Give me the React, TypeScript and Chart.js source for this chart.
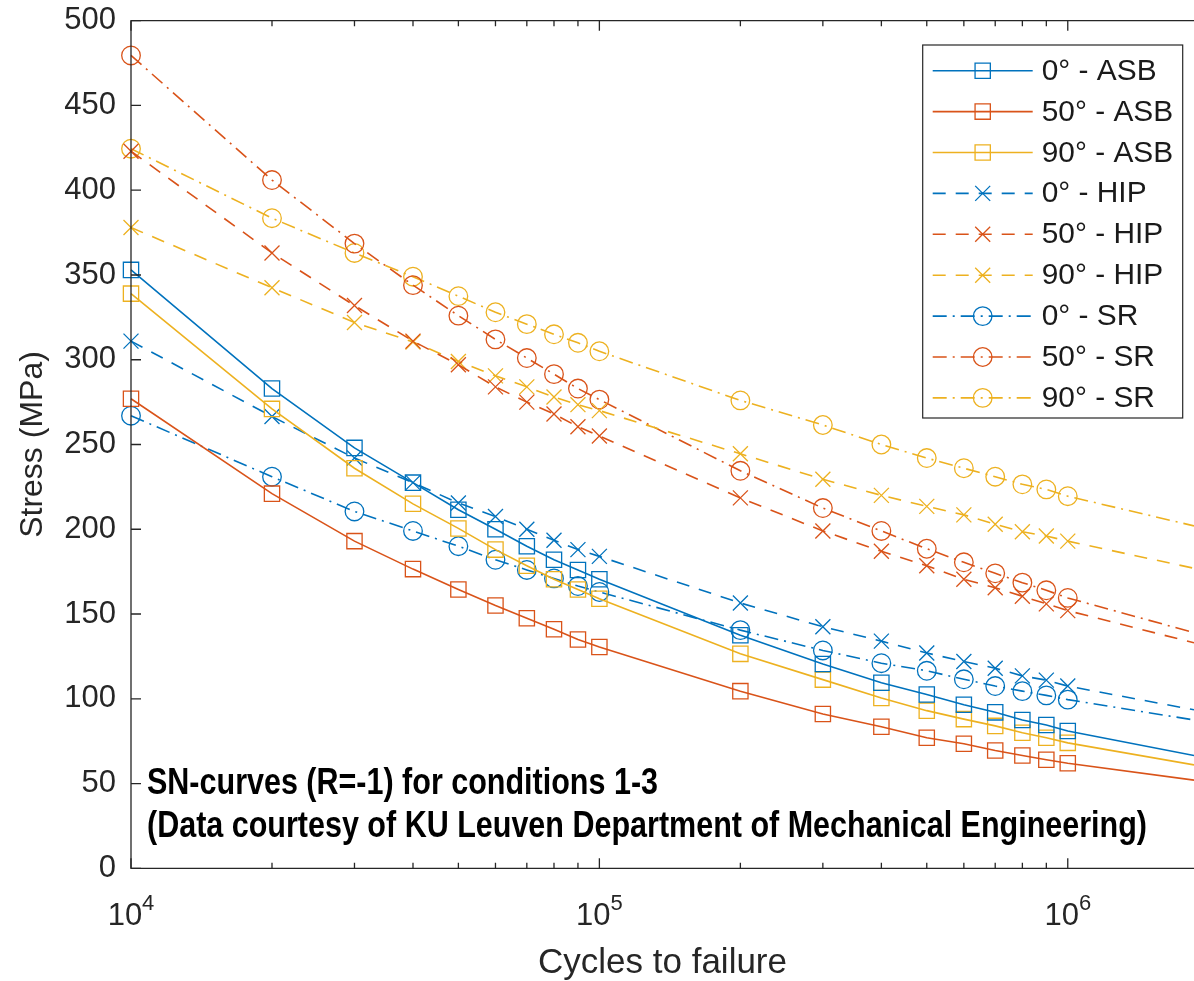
import React, { useEffect, useRef } from 'react';
import { Chart, registerables } from 'chart.js';

Chart.register(...registerables);

// ---------- data ----------
const CYCLES = [1e4, 2e4, 3e4, 4e4, 5e4, 6e4, 7e4, 8e4, 9e4, 1e5, 2e5, 3e5, 4e5, 5e5, 6e5, 7e5, 8e5, 9e5, 1e6, 1.86e6];
const X_MIN = 1e4;
const X_MAX = 1.86e6;

const ASB_0 = [353, 283, 248, 227.5, 211.5, 200, 190, 182, 176, 170.5, 137.5, 120.5, 109.5, 102.5, 96.5, 92, 87.5, 84.5, 81, 66.5];
const ASB_50 = [277, 221, 193, 176.5, 164.5, 155, 147.5, 141, 135, 130.5, 104.5, 91, 83.5, 77, 73.5, 69.5, 66.5, 64, 62, 52];
const ASB_90 = [339, 271, 236, 215, 200.5, 188, 178.5, 170.5, 164.5, 159, 126.5, 111.3, 100.5, 93, 88, 84, 80, 77, 74, 61];
const HIP_0 = [311, 266.5, 242, 227.5, 215.5, 207.5, 200, 193.5, 188, 184, 156.5, 142.5, 134, 127, 122, 118, 113.5, 111, 107.5, 93.5];
const HIP_50 = [423, 363, 332, 311, 297, 284, 275, 268, 260.5, 255, 218.5, 199, 187, 178.5, 170.5, 165.5, 160.5, 156, 152, 133];
const HIP_90 = [378, 342.5, 322, 310.5, 299, 290.5, 284, 278, 273.5, 270, 244.5, 229.5, 220, 213.5, 208.5, 203, 198.5, 196, 193, 177];
const SR_0 = [267, 231, 210.5, 199, 190, 182, 176, 171, 166.5, 163, 140.5, 128.5, 121, 116.5, 111.5, 107.5, 104.5, 102, 99.5, 87.5];
const SR_50 = [479.5, 406, 368.5, 344, 326, 312, 301, 291.5, 283, 276.5, 234.5, 212.5, 199, 188.5, 180.5, 174, 168.5, 164, 159.5, 139];
const SR_90 = [424.5, 383.5, 363, 349, 337.5, 328, 321, 315, 310, 305, 276, 261.5, 250, 242, 236, 231, 226.5, 223.5, 219.5, 202];

const SERIES_LABELS = ['0° - ASB', '50° - ASB', '90° - ASB', '0° - HIP', '50° - HIP', '90° - HIP', '0° - SR', '50° - SR', '90° - SR'];
const SERIES_VALUES = [ASB_0, ASB_50, ASB_90, HIP_0, HIP_50, HIP_90, SR_0, SR_50, SR_90];

const Y_TICKS = [0, 50, 100, 150, 200, 250, 300, 350, 400, 450, 500];
const X_DECADES = [1e4, 1e5, 1e6];
const X_TICK_LABELS = [['10', '4'], ['10', '5'], ['10', '6']];
const ANNOTATION = ['SN-curves (R=-1) for conditions 1-3', '(Data courtesy of KU Leuven Department of Mechanical Engineering)'];

// ---------- styles ----------
const BLUE = '#0072BD';
const RED = '#D95319';
const YELLOW = '#EDB120';
const COLORS = [BLUE, RED, YELLOW];
const AXIS = '#262626';
const FONT = '"Liberation Sans", Arial, Helvetica, sans-serif';
const DASHED = [13, 10];
const DASHDOT = [14, 6, 2, 6];
const MARKER_R: Record<string, number> = { rect: 10.8, crossRot: 10.6, circle: 9.3 };

function seriesStyle(i: number) {
  const group = Math.floor(i / 3);
  const color = COLORS[i % 3];
  const marker = group === 0 ? 'rect' : group === 1 ? 'crossRot' : 'circle';
  const dash = group === 0 ? [] : group === 1 ? DASHED : DASHDOT;
  return { color, marker, dash };
}

function drawMarker(ctx: CanvasRenderingContext2D, style: string, x: number, y: number, r: number) {
  ctx.beginPath();
  if (style === 'rect') {
    const s = r * Math.SQRT1_2;
    ctx.rect(x - s, y - s, 2 * s, 2 * s);
  } else if (style === 'circle') {
    ctx.arc(x, y, r, 0, Math.PI * 2);
  } else {
    const s = r * Math.SQRT1_2;
    ctx.moveTo(x - s, y - s);
    ctx.lineTo(x + s, y + s);
    ctx.moveTo(x - s, y + s);
    ctx.lineTo(x + s, y - s);
  }
  ctx.stroke();
}

const decorPlugin = {
  id: 'decor',
  afterDatasetsDraw(chart: any) {
    const { ctx, chartArea: ca, scales } = chart;
    const xs = scales.x;
    const ys = scales.y;
    ctx.save();

    // frame
    ctx.strokeStyle = AXIS;
    ctx.lineWidth = 1.3;
    ctx.setLineDash([]);
    ctx.beginPath();
    ctx.moveTo(ca.right + 2, ca.top);
    ctx.lineTo(ca.left, ca.top);
    ctx.lineTo(ca.left, ca.bottom);
    ctx.lineTo(ca.right + 2, ca.bottom);
    ctx.stroke();

    // y ticks (inward)
    ctx.beginPath();
    for (const v of Y_TICKS) {
      const y = ys.getPixelForValue(v);
      ctx.moveTo(ca.left, y);
      ctx.lineTo(ca.left + 10, y);
    }
    // x ticks (inward, bottom and top)
    for (const d of X_DECADES) {
      for (let m = 1; m <= 9; m++) {
        const v = m * d;
        if (v > X_MAX) break;
        const px = xs.getPixelForValue(v);
        const len = m === 1 ? 10 : 5.5;
        ctx.moveTo(px, ca.bottom);
        ctx.lineTo(px, ca.bottom - len);
        ctx.moveTo(px, ca.top);
        ctx.lineTo(px, ca.top + len);
      }
    }
    ctx.stroke();

    // x tick labels 10^n
    ctx.fillStyle = AXIS;
    ctx.textBaseline = 'alphabetic';
    ctx.textAlign = 'left';
    X_DECADES.forEach((d, i) => {
      const [base, exp] = X_TICK_LABELS[i];
      const px = xs.getPixelForValue(d);
      ctx.font = `31px ${FONT}`;
      const wb = ctx.measureText(base).width;
      ctx.font = `22px ${FONT}`;
      const we = ctx.measureText(exp).width;
      const x0 = px - (wb + we) / 2;
      ctx.font = `31px ${FONT}`;
      ctx.fillText(base, x0, ca.bottom + 57);
      ctx.font = `22px ${FONT}`;
      ctx.fillText(exp, x0 + wb, ca.bottom + 42);
    });

    // annotation (bold condensed)
    ctx.fillStyle = '#000';
    ctx.font = `bold 36px ${FONT}`;
    const w2 = ctx.measureText(ANNOTATION[1]).width;
    const sx = 1000 / w2;
    const ax = ca.left + 16;
    const baselines = [ca.bottom - 74.3, ca.bottom - 31.3];
    ANNOTATION.forEach((t, i) => {
      ctx.save();
      ctx.translate(ax, baselines[i]);
      ctx.scale(sx, 1);
      ctx.fillText(t, 0, 0);
      ctx.restore();
    });

    // legend
    const lx = 922.7, ly = 45, lw = 260, lh = 373;
    ctx.fillStyle = '#fff';
    ctx.fillRect(lx, ly, lw, lh);
    ctx.strokeStyle = AXIS;
    ctx.lineWidth = 1.2;
    ctx.setLineDash([]);
    ctx.strokeRect(lx, ly, lw, lh);
    SERIES_LABELS.forEach((label, i) => {
      const st = seriesStyle(i);
      const y = ly + 25.7 + i * 40.9;
      ctx.strokeStyle = st.color;
      ctx.lineWidth = 1.6;
      ctx.setLineDash(st.dash);
      ctx.beginPath();
      ctx.moveTo(lx + 10, y);
      ctx.lineTo(lx + 110, y);
      ctx.stroke();
      ctx.setLineDash([]);
      ctx.lineWidth = 1.3;
      drawMarker(ctx, st.marker, lx + 60, y, MARKER_R[st.marker]);
      ctx.fillStyle = '#1a1a1a';
      ctx.font = `29px ${FONT}`;
      ctx.textBaseline = 'middle';
      ctx.save();
      ctx.translate(lx + 119, y + 1);
      ctx.scale(1.03, 1);
      ctx.fillText(label, 0, 0);
      ctx.restore();
    });

    ctx.restore();
  },
};

export default function App() {
  const ref = useRef<HTMLCanvasElement | null>(null);

  useEffect(() => {
    if (!ref.current) return;
    const last = CYCLES.length - 1;
    const datasets = SERIES_VALUES.map((vals, i) => {
      const st = seriesStyle(i);
      const r = MARKER_R[st.marker];
      return {
        label: SERIES_LABELS[i],
        data: CYCLES.map((x, j) => ({ x, y: vals[j] })),
        borderColor: st.color,
        backgroundColor: 'rgba(0,0,0,0)',
        borderWidth: 1.6,
        borderDash: st.dash,
        pointStyle: st.marker,
        pointRadius: CYCLES.map((_, j) => (j === last ? 0 : r)),
        pointBorderColor: st.color,
        pointBackgroundColor: 'rgba(0,0,0,0)',
        pointBorderWidth: 1.3,
        tension: 0,
        clip: false,
      };
    });

    const chart = new Chart(ref.current, {
      type: 'line',
      data: { datasets: datasets as any },
      options: {
        animation: false,
        responsive: false,
        events: [],
        layout: { autoPadding: false, padding: { top: 20.7, right: 0, bottom: 0, left: 0 } },
        plugins: { legend: { display: false }, tooltip: { enabled: false } },
        scales: {
          x: {
            type: 'logarithmic',
            min: X_MIN,
            max: X_MAX,
            grid: { display: false, drawTicks: false },
            border: { display: false },
            ticks: { display: false },
            title: {
              display: true,
              text: 'Cycles to failure',
              color: AXIS,
              font: { family: FONT, size: 35 },
              padding: { top: 0, bottom: -3 },
            },
            afterFit: (s: any) => {
              s.height = 112.7;
              s.paddingLeft = 0;
              s.paddingRight = 0;
            },
          },
          y: {
            type: 'linear',
            min: 0,
            max: 500,
            grid: { display: false, drawTicks: false },
            border: { display: false },
            ticks: {
              stepSize: 50,
              color: AXIS,
              padding: 15,
              font: { family: FONT, size: 31 },
            },
            title: {
              display: true,
              text: 'Stress (MPa)',
              color: AXIS,
              font: { family: FONT, size: 32 },
              padding: { top: 14, bottom: 0 },
            },
            afterFit: (s: any) => {
              s.width = 131;
              s.paddingTop = 0;
              s.paddingBottom = 0;
            },
          },
        },
      },
      plugins: [decorPlugin],
    });
    return () => chart.destroy();
  }, []);

  return (
    <div style={{ position: 'absolute', left: 0, top: 0, width: 1194, height: 981, background: '#fff', overflow: 'hidden' }}>
      <canvas ref={ref} width={1194} height={981} style={{ display: 'block' }} />
    </div>
  );
}
